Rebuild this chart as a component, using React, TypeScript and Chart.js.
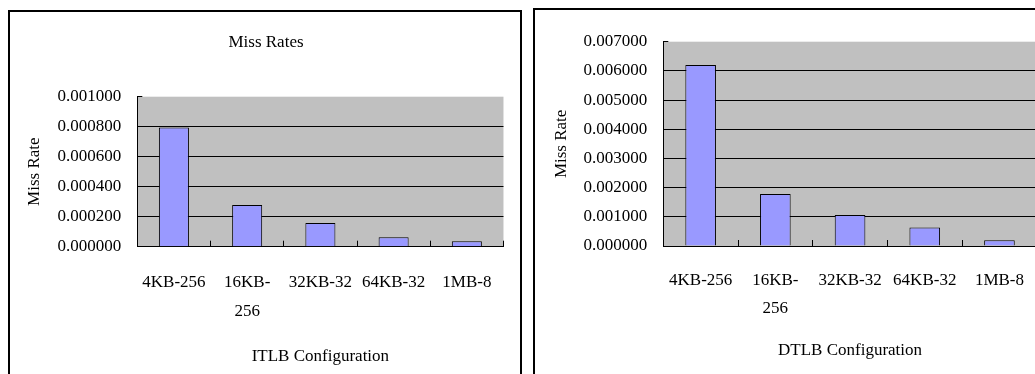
import { useEffect, useRef } from 'react';
import { Chart, registerables } from 'chart.js';

Chart.register(...registerables);

// TLB configurations (page size - entries) shared by both panels
const configurations: (string | string[])[] = ['4KB-256', ['16KB-', '256'], '32KB-32', '64KB-32', '1MB-8'];

// Instruction TLB miss rates
const itlbMissRates = [0.000795, 0.000278, 0.000158, 0.000063, 0.000036];
// Data TLB miss rates
const dtlbMissRates = [0.0062, 0.00178, 0.00106, 0.00063, 0.0002];

// Value axes: [max, step]
const itlbAxis = [0.001, 0.0002];
const dtlbAxis = [0.007, 0.001];

const FAMILY = "'Liberation Serif', 'Times New Roman', serif";
const TEXT = '#000000';

type Panel = {
  x: number; y: number; w: number; h: number;
  title?: string;
  titleTop?: number; titleBottom?: number;
  xTitle: string;
  xTitlePad: number;
  values: number[];
  axis: number[];
  pad: { left: number; right: number; top: number; bottom: number };
  yWidth: number; yTitlePad: number;
  xHeight: number; xLine: number; xPad: number;
};

const plotBackground = {
  id: 'plotBackground',
  beforeDraw(chart: any) {
    const { ctx, chartArea: a } = chart;
    ctx.save();
    ctx.fillStyle = '#C0C0C0';
    ctx.fillRect(a.left, a.top, a.right - a.left, a.bottom - a.top);
    ctx.restore();
  },
};

function BarPanel({ p }: { p: Panel }) {
  const ref = useRef<HTMLCanvasElement>(null);

  useEffect(() => {
    const [max, step] = p.axis;
    const font = { family: FAMILY, size: 17, weight: 'normal' as const, lineHeight: 1.2 };
    const chart = new Chart(ref.current!, {
      type: 'bar',
      data: {
        labels: configurations,
        datasets: [
          {
            data: p.values,
            backgroundColor: '#9999FF',
            borderColor: '#000000',
            borderWidth: 1,
            barPercentage: 0.41,
            categoryPercentage: 1,
          },
        ],
      },
      plugins: [plotBackground],
      options: {
        responsive: false,
        animation: false,
        layout: { padding: p.pad },
        plugins: {
          legend: { display: false },
          tooltip: { enabled: false },
          title: p.title
            ? {
                display: true,
                text: p.title,
                color: TEXT,
                font,
                padding: { top: p.titleTop, bottom: p.titleBottom },
              }
            : { display: false },
        },
        scales: {
          x: {
            offset: true,
            grid: {
              offset: true,
              drawOnChartArea: false,
              drawTicks: true,
              tickLength: -6,
              tickColor: '#000000',
              tickWidth: 1,
            },
            border: { display: true, color: '#000000', width: 1 },
            ticks: {
              color: TEXT,
              font: { family: FAMILY, size: 17, lineHeight: p.xLine / 17 },
              padding: p.xPad,
              maxRotation: 0,
              minRotation: 0,
              autoSkip: false,
            },
            title: {
              display: true,
              text: p.xTitle,
              color: TEXT,
              font,
              padding: { top: 0, bottom: p.xTitlePad },
            },
            afterFit(scale: any) {
              scale.height = p.xHeight;
            },
          },
          y: {
            min: 0,
            max,
            ticks: {
              stepSize: step,
              color: TEXT,
              font: { family: FAMILY, size: 17 },
              padding: 21,
              callback: (v: any) => Number(v).toFixed(6),
            },
            grid: {
              color: (ctx: any) =>
                ctx.tick && ctx.tick.value >= max - step / 1000 ? 'rgba(0,0,0,0)' : '#000000',
              lineWidth: 1,
              drawTicks: true,
              tickLength: -5,
              tickColor: '#000000',
              tickWidth: 1,
            },
            border: { display: true, color: '#000000', width: 1 },
            title: {
              display: true,
              text: 'Miss Rate',
              color: TEXT,
              font,
              padding: { top: p.yTitlePad, bottom: 0 },
            },
            afterFit(scale: any) {
              scale.width = p.yWidth;
            },
          },
        },
      },
    } as any);
    return () => chart.destroy();
  }, [p]);

  return (
    <canvas
      ref={ref}
      width={p.w}
      height={p.h}
      style={{ position: 'absolute', left: p.x, top: p.y, width: p.w, height: p.h, display: 'block' }}
    />
  );
}

const itlbPanel: Panel = {
  x: 10, y: 12, w: 510, h: 362,
  title: 'Miss Rates',
  titleTop: 20.8, titleBottom: 43.5,
  xTitle: 'ITLB Configuration',
  xTitlePad: 1,
  values: itlbMissRates,
  axis: itlbAxis,
  pad: { left: 10.3, right: 8.3, top: 0, bottom: 5.8 },
  yWidth: 117, yTitlePad: 3.9,
  xHeight: 121.5, xLine: 28.5, xPad: 27.75,
};

const dtlbPanel: Panel = {
  x: 535, y: 10, w: 520, h: 364,
  xTitle: 'DTLB Configuration',
  xTitlePad: 2,
  values: dtlbMissRates,
  axis: dtlbAxis,
  pad: { left: 10, right: 18.2, top: 31.7, bottom: 10.8 },
  yWidth: 118.3, yTitlePad: 6.5,
  xHeight: 117.2, xLine: 28, xPad: 27,
};

export default function App() {
  const frame = (left: number, top: number, width: number): React.CSSProperties => ({
    position: 'absolute',
    left,
    top,
    width,
    height: 420,
    border: '2px solid #000',
    boxSizing: 'border-box',
    pointerEvents: 'none',
  });
  return (
    <div
      style={{
        position: 'fixed',
        left: 0,
        top: 0,
        width: 1035,
        height: 374,
        overflow: 'hidden',
        background: '#ffffff',
      }}
    >
      <BarPanel p={itlbPanel} />
      <BarPanel p={dtlbPanel} />
      <div style={frame(8, 10, 514)} />
      <div style={frame(533, 8, 600)} />
    </div>
  );
}
